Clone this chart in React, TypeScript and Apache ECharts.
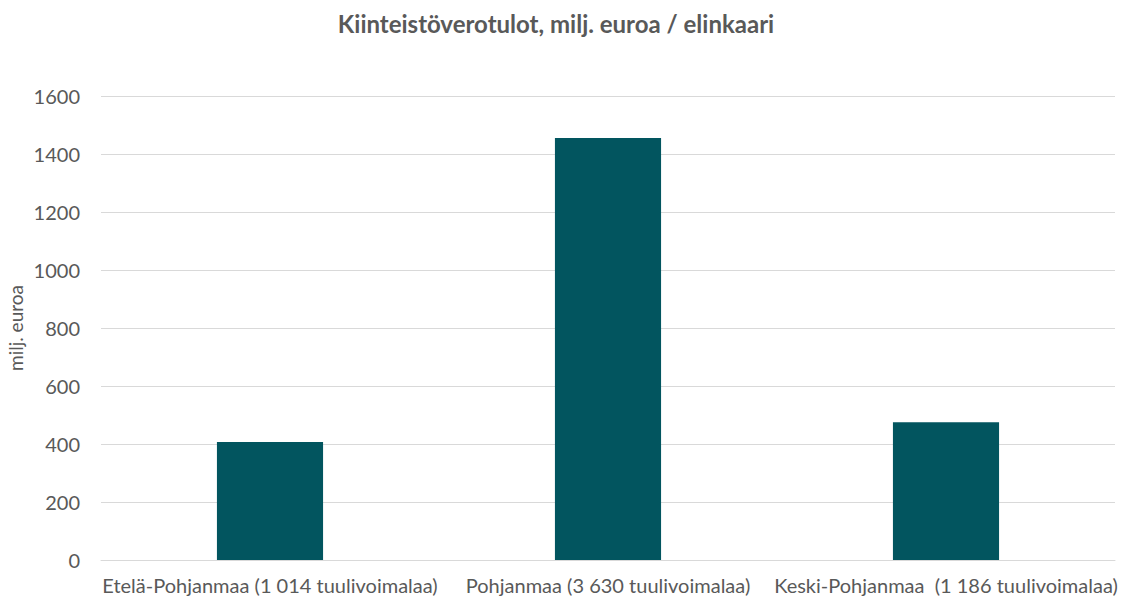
import React, { useEffect, useRef } from "react";
import * as echarts from "echarts";

const categories = [
  "Etelä-Pohjanmaa (1 014 tuulivoimalaa)",
  "Pohjanmaa (3 630 tuulivoimalaa)",
  "Keski-Pohjanmaa  (1 186 tuulivoimalaa)",
];
const values = [407, 1455, 475];
const titleText = "Kiinteistöverotulot, milj. euroa / elinkaari";
const yAxisName = "milj. euroa";

export default function App() {
  const ref = useRef<HTMLDivElement>(null);
  useEffect(() => {
    if (!ref.current) return;
    const chart = echarts.init(ref.current, null, { renderer: "svg" });
    const font = "Lato, 'Open Sans', sans-serif";
    chart.setOption({
      animation: false,
      textStyle: { fontFamily: font },
      title: {
        text: titleText,
        left: 551,
        top: 6,
        textAlign: "center",
        textStyle: { fontFamily: font, fontSize: 24, fontWeight: "bold", color: "#595959" },
      },
      grid: {
        left: 101,
        right: 11,
        top: 96,
        bottom: 38,
        containLabel: false,
        outerBoundsMode: "none",
      },
      xAxis: {
        type: "category",
        data: categories,
        axisLine: { show: true, lineStyle: { color: "#d9d9d9", width: 1 } },
        axisTick: { show: false },
        axisLabel: { color: "#595959", fontSize: 20, fontFamily: font, margin: 15, interval: 0 },
      },
      yAxis: {
        type: "value",
        min: 0,
        max: 1600,
        interval: 200,
        name: yAxisName,
        nameLocation: "middle",
        nameGap: 76,
        nameMoveOverlap: false,
        nameTextStyle: { color: "#595959", fontSize: 19, fontFamily: font },
        axisLine: { show: false },
        axisTick: { show: false },
        axisLabel: {
          color: "#595959",
          fontSize: 20,
          fontFamily: font,
          margin: 21,
          formatter: (v: number) => String(v),
        },
        splitLine: { lineStyle: { color: "#d9d9d9", width: 1 } },
      },
      series: [
        {
          type: "bar",
          data: values,
          barWidth: "31.4%",
          itemStyle: { color: "#02555F" },
        },
      ],
    });
    return () => chart.dispose();
  }, []);
  return <div ref={ref} style={{ position: "absolute", left: 0, top: 0, width: 1126, height: 598 }} />;
}
